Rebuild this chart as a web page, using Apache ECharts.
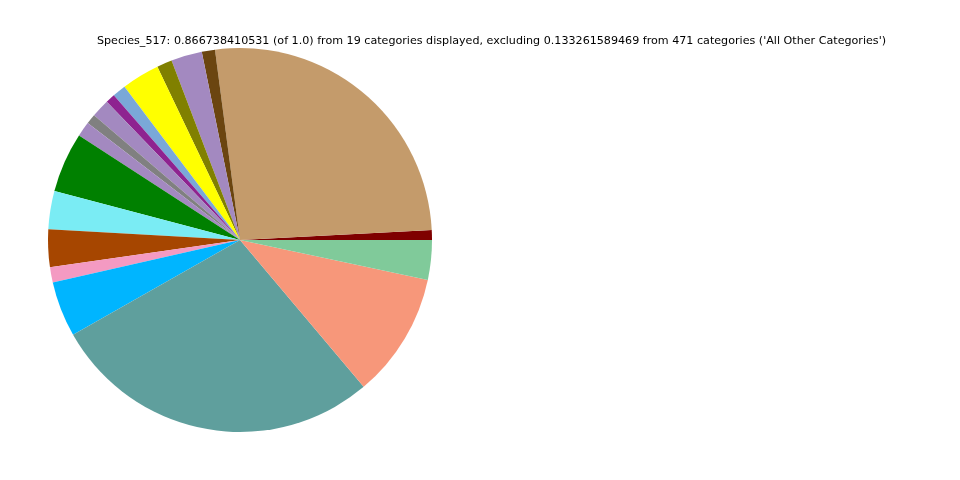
<!DOCTYPE html>
<html>
<head>
<meta charset="utf-8">
<script src="https://cdn.jsdelivr.net/npm/echarts@6/dist/echarts.min.js"></script>
<style>html,body{margin:0;padding:0;background:#fff}#c{width:960px;height:480px}</style>
</head>
<body>
<div id="c"></div>
<script>
var titleText = "Species_517: 0.866738410531 (of 1.0) from 19 categories displayed, excluding 0.133261589469 from 471 categories ('All Other Categories')";
var categories = ["c1","c2","c3","c4","c5","c6","c7","c8","c9","c10","c11","c12","c13","c14","c15","c16","c17","c18","c19"];
var values = [0.00722,0.2275,0.00963,0.02263,0.01108,0.02769,0.00987,0.00686,0.01336,0.00722,0.01083,0.04382,0.02793,0.02745,0.01108,0.04045,0.24196,0.09125,0.02889];
var colors = ["#7f0000","#c49b6b","#6b4510","#a389c0","#808000","#ffff00","#7aa8d8","#8e2390","#a389c0","#808080","#a389c0","#008000","#7aecf4","#a64600","#f49ac2","#00b5ff","#5f9f9d","#f7977a","#80ca9a"];

var chart = echarts.init(document.getElementById('c'), null, {renderer:'canvas'});
chart.setOption({
  animation: false,
  backgroundColor: '#ffffff',
  title: {
    text: titleText,
    left: 92, top: 31,
    textStyle: {fontFamily: 'DejaVu Sans', fontSize: 11.14, fontWeight: 'normal', color: '#000'}
  },
  series: [{
    type: 'pie',
    center: [240, 240],
    radius: 192,
    startAngle: 0,
    clockwise: false,
    label: {show: false},
    labelLine: {show: false},
    emphasis: {disabled: true},
    itemStyle: {borderWidth: 0},
    data: categories.map(function(c, i){ return {name: c, value: values[i], itemStyle: {color: colors[i]}}; })
  }]
});
</script>
</body>
</html>
